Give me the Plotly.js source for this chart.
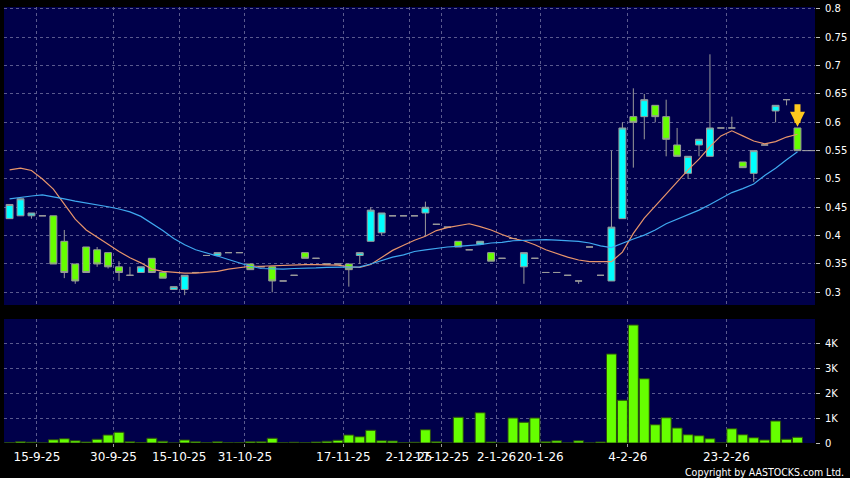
<!DOCTYPE html>
<html><head><meta charset="utf-8">
<script src="https://cdn.plot.ly/plotly-3.0.1.min.js"></script>
<style>html,body{margin:0;padding:0;background:#000;overflow:hidden}#chart{width:850px;height:478px}</style>
</head><body><div id="chart"></div>
<script>
const opens = [0.43,0.435,0.435,0.435,0.435,0.39,0.35,0.38,0.375,0.37,
  0.345,0.33,0.335,0.36,0.335,0.305,0.305,0.335,0.365,0.365,
  0.37,0.37,0.35,0.345,0.345,0.32,0.33,0.37,0.36,0.35,
  0.35,0.35,0.365,0.39,0.405,0.435,0.435,0.435,0.44,0.42,
  0.415,0.39,0.375,0.385,0.37,0.36,0.395,0.345,0.36,0.335,
  0.335,0.33,0.32,0.38,0.33,0.32,0.43,0.61,0.61,0.63,
  0.61,0.56,0.51,0.56,0.54,0.59,0.59,0.53,0.51,0.56,
  0.62,0.64,0.59];
const highs = [0.455,0.465,0.44,0.435,0.435,0.41,0.35,0.38,0.38,0.37,
  0.355,0.345,0.345,0.36,0.335,0.31,0.33,0.335,0.365,0.37,
  0.37,0.37,0.35,0.345,0.345,0.32,0.33,0.37,0.36,0.35,
  0.35,0.35,0.37,0.45,0.44,0.435,0.435,0.435,0.46,0.42,
  0.415,0.39,0.375,0.39,0.37,0.36,0.395,0.37,0.36,0.335,
  0.335,0.33,0.32,0.38,0.33,0.55,0.60,0.66,0.65,0.63,
  0.64,0.59,0.54,0.57,0.72,0.59,0.61,0.53,0.55,0.56,
  0.63,0.64,0.59];
const lows = [0.43,0.435,0.43,0.435,0.35,0.325,0.315,0.335,0.345,0.342,
  0.32,0.33,0.335,0.335,0.325,0.305,0.295,0.335,0.365,0.365,
  0.37,0.37,0.34,0.345,0.30,0.32,0.33,0.36,0.36,0.35,
  0.35,0.31,0.35,0.39,0.40,0.435,0.435,0.435,0.40,0.42,
  0.415,0.38,0.375,0.385,0.355,0.36,0.395,0.315,0.36,0.335,
  0.335,0.33,0.315,0.38,0.33,0.32,0.43,0.52,0.57,0.60,
  0.54,0.54,0.50,0.54,0.54,0.59,0.59,0.52,0.495,0.56,
  0.60,0.63,0.55];
const closes = [0.455,0.465,0.44,0.435,0.35,0.335,0.32,0.335,0.35,0.345,
  0.335,0.33,0.345,0.335,0.325,0.31,0.33,0.335,0.365,0.37,
  0.37,0.37,0.34,0.345,0.32,0.32,0.33,0.36,0.36,0.35,
  0.35,0.34,0.37,0.445,0.44,0.435,0.435,0.435,0.45,0.42,
  0.415,0.38,0.375,0.39,0.355,0.36,0.395,0.37,0.36,0.335,
  0.335,0.33,0.32,0.38,0.33,0.415,0.59,0.60,0.64,0.61,
  0.57,0.54,0.54,0.57,0.59,0.59,0.59,0.52,0.55,0.56,
  0.63,0.64,0.55];
const volumesK = [0.01,0.05,0.03,0,0.13,0.17,0.09,0.04,0.15,0.32,
  0.43,0.05,0.02,0.19,0.07,0,0.12,0.05,0.01,0.05,
  0.01,0.01,0.05,0.05,0.19,0.01,0.03,0.01,0.04,0.07,
  0.11,0.32,0.25,0.51,0.09,0.08,0.01,0.03,0.53,0.05,
  0,1.03,0,1.21,0.04,0,1.0,0.83,1.0,0.05,
  0.09,0,0.09,0,0.04,3.56,1.71,4.72,2.57,0.73,
  1.01,0.6,0.33,0.29,0.17,0,0.57,0.33,0.21,0.12,
  0.88,0.15,0.23];
const maShort = [0.516,0.519,0.515,0.50,0.482,0.456,0.429,0.41,0.398,0.385,
  0.372,0.361,0.352,0.341,0.337,0.335,0.334,0.334,0.335,0.337,
  0.341,0.344,0.346,0.346,0.347,0.348,0.348,0.349,0.349,0.349,
  0.348,0.345,0.344,0.349,0.361,0.374,0.383,0.392,0.399,0.409,
  0.414,0.418,0.421,0.416,0.41,0.402,0.395,0.391,0.384,0.375,
  0.368,0.362,0.357,0.354,0.354,0.354,0.371,0.404,0.431,0.452,
  0.474,0.495,0.516,0.535,0.557,0.576,0.585,0.576,0.567,0.562,
  0.566,0.574,0.579];
const maLong = [0.465,0.468,0.47,0.472,0.469,0.465,0.461,0.458,0.455,0.451,
  0.447,0.442,0.434,0.422,0.409,0.395,0.384,0.375,0.370,0.364,
  0.358,0.352,0.346,0.342,0.341,0.341,0.342,0.342,0.343,0.344,
  0.344,0.344,0.345,0.35,0.356,0.362,0.366,0.372,0.375,0.378,
  0.38,0.381,0.382,0.384,0.387,0.388,0.391,0.392,0.393,0.393,
  0.392,0.391,0.39,0.387,0.382,0.379,0.387,0.394,0.401,0.41,
  0.421,0.429,0.437,0.445,0.455,0.466,0.476,0.483,0.491,0.506,
  0.519,0.534,0.548];
const dateTickPos = [2.5,9.5,15.5,21.5,30.5,36.5,39.5,44.5,48.5,56.5,65.5];
const dateTickText = ['15-9-25','30-9-25','15-10-25','31-10-25','17-11-25','2-12-25','17-12-25','2-1-26','20-1-26','4-2-26','23-2-26'];
const priceTicks = [0.3,0.35,0.4,0.45,0.5,0.55,0.6,0.65,0.7,0.75,0.8];
const priceTickText = ['0.3','0.35','0.4','0.45','0.5','0.55','0.6','0.65','0.7','0.75','0.8'];
const volTicks = [0,1,2,3,4];
const volTickText = ['0','1K','2K','3K','4K'];

const idx = opens.map((_, i) => i);
const last = idx.length - 1;
const xEnd = last + 1.6;
const gridCol = '#5a5a8e';
const font = 'DejaVu Sans, sans-serif';

const traces = [
  {type:'candlestick', x:idx, open:opens, high:highs, low:lows, close:closes,
   xaxis:'x', yaxis:'y', whiskerwidth:0, hoverinfo:'skip',
   increasing:{line:{color:'#9a9a9a', width:1}, fillcolor:'#00ffff'},
   decreasing:{line:{color:'#9a9a9a', width:1}, fillcolor:'#66ff00'}},
  {type:'scatter', mode:'lines', x:idx, y:maShort, xaxis:'x', yaxis:'y',
   line:{color:'#e8956b', width:1.2}, hoverinfo:'skip'},
  {type:'scatter', mode:'lines', x:idx, y:maLong, xaxis:'x', yaxis:'y',
   line:{color:'#3fa9f0', width:1.2}, hoverinfo:'skip'},
  {type:'bar', x:idx, y:volumesK, xaxis:'x', yaxis:'y2',
   marker:{color:'#66ff00', line:{color:'#2a4a10', width:1}}, hoverinfo:'skip'}
];

const layout = {
  width:850, height:478,
  margin:{l:4, r:35, t:7, b:35},
  paper_bgcolor:'#000000', plot_bgcolor:'#00004a',
  showlegend:false, boxgap:0.1, bargap:0.09,
  font:{family:font, color:'#ffffff'},
  xaxis:{domain:[0,1], anchor:'y2', range:[-0.51, xEnd],
    tickmode:'array', tickvals:dateTickPos, ticktext:dateTickText, tickangle:0,
    ticks:'outside', ticklen:3, tickcolor:'#999', tickfont:{family:font, size:12, color:'#ffffff'},
    showgrid:true, gridcolor:gridCol, griddash:'3px,3px', gridwidth:1,
    zeroline:false, showline:false, rangeslider:{visible:false}, fixedrange:true},
  yaxis:{domain:[0.3165,1], anchor:'x', side:'right', range:[0.2776,0.8035],
    tickmode:'array', tickvals:priceTicks, ticktext:priceTickText,
    ticks:'outside', ticklen:4, tickcolor:'#bbb', ticklabelstandoff:3,
    tickfont:{family:font, size:10, color:'#ffffff'},
    showgrid:true, gridcolor:gridCol, griddash:'3px,3px', zeroline:false, showline:false, fixedrange:true},
  yaxis2:{domain:[0,0.2844], anchor:'x', side:'right', range:[0,4.96],
    tickmode:'array', tickvals:volTicks, ticktext:volTickText,
    ticks:'outside', ticklen:4, tickcolor:'#bbb', ticklabelstandoff:3,
    tickfont:{family:font, size:10, color:'#ffffff'},
    showgrid:true, gridcolor:gridCol, griddash:'3px,3px', zeroline:false, showline:false, fixedrange:true},
  shapes:[
    {type:'line', xref:'x', yref:'y', x0:last+0.45, x1:xEnd, y0:closes[last], y1:closes[last],
     line:{color:'#aaaaaa', width:1}}
  ],
  annotations:[
    {xref:'x', yref:'y', x:last, y:highs[last]+0.002, ax:0, ay:-24, text:'',
     showarrow:true, arrowhead:2, arrowsize:0.5, arrowwidth:6, arrowcolor:'#ffc81e'},
    {xref:'paper', yref:'paper', x:1.038, y:-0.067, xanchor:'right', yanchor:'middle',
     text:'Copyright by AASTOCKS.com Ltd.', showarrow:false,
     font:{family:'DejaVu Sans Condensed, DejaVu Sans, sans-serif', size:10.5, color:'#ffffff'}}
  ]
};

Plotly.newPlot('chart', traces, layout, {displayModeBar:false, staticPlot:true});
</script>
</body></html>
